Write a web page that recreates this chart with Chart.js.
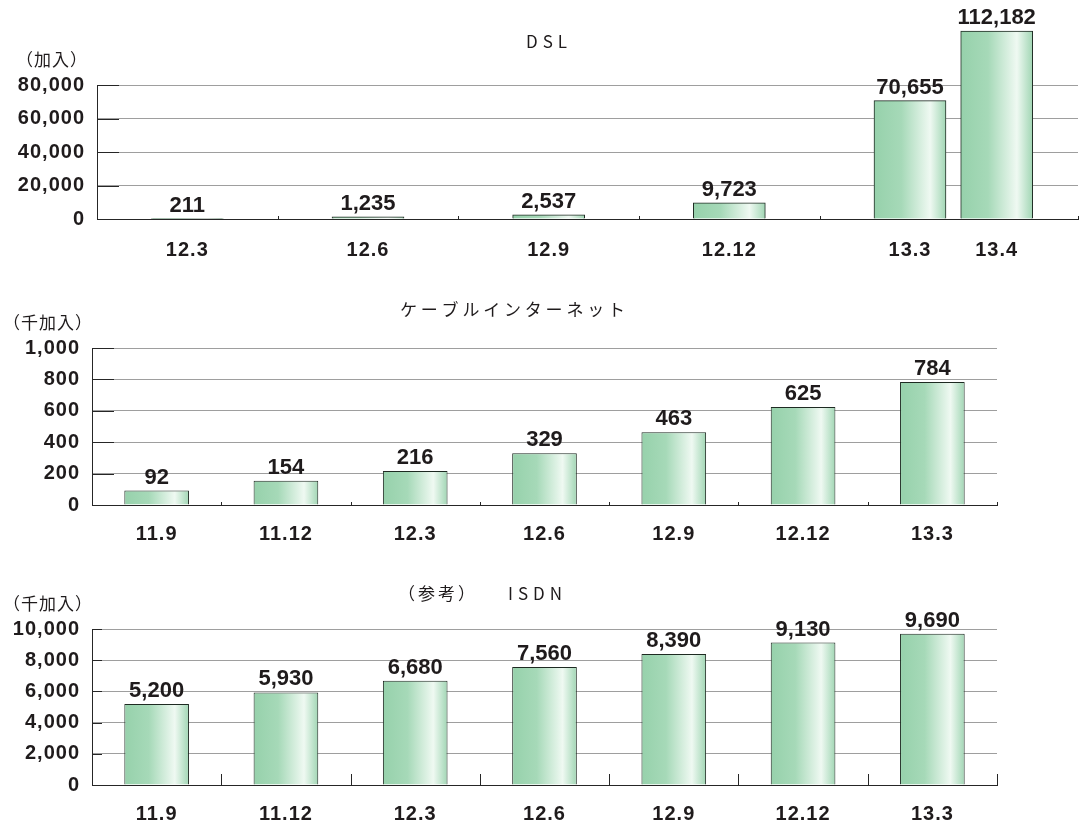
<!DOCTYPE html>
<html>
<head>
<meta charset="utf-8">
<script src="https://cdn.jsdelivr.net/npm/chart.js@4.4.1/dist/chart.umd.min.js"></script>
<style>
  html, body { margin: 0; padding: 0; background: #fff; }
  body { width: 1079px; height: 824px; position: relative; overflow: hidden; }
  canvas { position: absolute; left: 0; }
</style>
</head>
<body>
<canvas id="dsl" width="1079" height="265" style="top:0px"></canvas>
<canvas id="catv" width="1079" height="285" style="top:265px"></canvas>
<canvas id="isdn" width="1079" height="274" style="top:550px"></canvas>
<script>
// ---- data ----
const dslLabels = ['12.3', '12.6', '12.9', '12.12', '13.3', '13.4'];
const dslValues = [211, 1235, 2537, 9723, 70655, 112182];
const dslTicks = [0, 20000, 40000, 60000, 80000];

const cableLabels = ['11.9', '11.12', '12.3', '12.6', '12.9', '12.12', '13.3'];
const cableValues = [92, 154, 216, 329, 463, 625, 784];
const cableTicks = [0, 200, 400, 600, 800, 1000];

const isdnLabels = ['11.9', '11.12', '12.3', '12.6', '12.9', '12.12', '13.3'];
const isdnValues = [5200, 5930, 6680, 7560, 8390, 9130, 9690];
const isdnTicks = [0, 2000, 4000, 6000, 8000, 10000];

// ---- look ----
const FONT = "'Liberation Sans', Arial, 'Noto Sans CJK JP', sans-serif";
const JFONT = "'Noto Sans CJK JP', 'Liberation Sans', sans-serif";
const INK = '#1f1b1c';
const GRID = '#9e9e9e';
const AXIS = '#262626';
const fmt = v => v.toLocaleString('en-US');

// DSL: the newest month (13.4) sits right beside 13.3 inside the last slot
const DSL_BAR = 0.4;   // bar width as a fraction of a slot
const DSL_GAP = 0.08;  // gap between the two adjacent bars
const dslMain = dslLabels.length - 1;
const dslSlots = dslLabels.map((l, i) => i < dslMain ? i : (dslMain - 1) + DSL_BAR + DSL_GAP);
const dslAxisMax = dslSlots[dslSlots.length - 1] + DSL_BAR / 2 + 0.25;

// horizontal light-sheen fill for each bar
const barShading = {
  id: 'barShading',
  beforeDatasetsDraw(chart) {
    const ctx = chart.ctx;
    if ('letterSpacing' in ctx) ctx.letterSpacing = '0px';
    chart.data.datasets.forEach((ds, di) => {
      chart.getDatasetMeta(di).data.forEach(el => {
        const h = el.width / 2;
        const g = ctx.createLinearGradient(el.x - h, 0, el.x + h, 0);
        g.addColorStop(0, '#96d1ab');
        g.addColorStop(0.38, '#a6d9b8');
        g.addColorStop(0.78, '#eff9f2');
        g.addColorStop(1, '#a1d6b4');
        el.options.backgroundColor = g;
      });
    });
  }
};

// slightly tracked axis lettering
const tickTracking = {
  id: 'tickTracking',
  beforeDraw(chart, args, opts) {
    if ('letterSpacing' in chart.ctx) chart.ctx.letterSpacing = opts.px + 'px';
  }
};

// value printed above every bar
const valueLabels = {
  id: 'valueLabels',
  afterDatasetsDraw(chart, args, opts) {
    const ctx = chart.ctx;
    ctx.save();
    if ('letterSpacing' in ctx) ctx.letterSpacing = '0px';
    ctx.font = `bold ${opts.size}px ${FONT}`;
    ctx.fillStyle = INK;
    ctx.textAlign = 'center';
    ctx.textBaseline = 'alphabetic';
    chart.data.datasets.forEach((ds, di) => {
      chart.getDatasetMeta(di).data.forEach((el, i) => {
        const raw = ds.data[i];
        const v = typeof raw === 'object' ? raw.y : raw;
        ctx.fillText(fmt(v), el.x, el.y - opts.gap);
      });
    });
    ctx.restore();
  }
};

// short inward tick marks on both axes
const axisMarks = {
  id: 'axisMarks',
  afterDatasetsDraw(chart, args, opts) {
    const { ctx, chartArea: a, scales: { x, y } } = chart;
    ctx.save();
    ctx.strokeStyle = AXIS;
    ctx.lineWidth = 1;
    ctx.beginPath();
    y.ticks.forEach(t => {
      const py = Math.round(y.getPixelForValue(t.value)) + 0.5;
      ctx.moveTo(a.left, py);
      ctx.lineTo(a.left + opts.yLen, py);
    });
    const xs = [];
    for (let i = 0; i < opts.slots - 1; i++) xs.push(x.getPixelForValue(i + 0.5));
    xs.push(a.right - 0.5);
    xs.forEach(px => {
      px = Math.round(px) + 0.5;
      ctx.moveTo(px, a.bottom);
      ctx.lineTo(px, a.bottom - opts.xLen);
    });
    ctx.stroke();
    ctx.restore();
  }
};

// chart heading and unit caption
const headings = {
  id: 'headings',
  afterDraw(chart, args, o) {
    const ctx = chart.ctx;
    ctx.save();
    ctx.fillStyle = INK;
    ctx.textBaseline = 'middle';
    ctx.textAlign = 'left';
    o.parts.forEach(p => {
      ctx.font = `${p.size}px ${JFONT}`;
      if ('letterSpacing' in ctx) ctx.letterSpacing = p.spacing + 'px';
      ctx.fillText(p.text, p.x, p.y);
    });
    ctx.restore();
  }
};

function yScale(ticks, axisWidth) {
  return {
    min: ticks[0],
    max: ticks[ticks.length - 1],
    afterBuildTicks: s => { s.ticks = ticks.map(v => ({ value: v })); },
    afterFit: s => { s.width = axisWidth; },
    grid: { color: GRID, lineWidth: 1, drawTicks: false },
    border: { display: true, color: AXIS, width: 1 },
    ticks: {
      padding: 12,
      color: INK,
      font: { family: FONT, size: 20, weight: 'bold' },
      callback: v => fmt(v)
    }
  };
}

function xTicks(pad) {
  return {
    padding: pad,
    color: INK,
    autoSkip: false,
    maxRotation: 0,
    font: { family: FONT, size: 20, weight: 'bold' }
  };
}

function commonOptions(pad) {
  return {
    responsive: false,
    animation: false,
    events: [],
    layout: { padding: pad },
    plugins: { legend: { display: false }, tooltip: { enabled: false }, tickTracking: { px: 1 } }
  };
}

function barDataset(data, extra) {
  return Object.assign({
    data,
    backgroundColor: () => '#a7d9b9',
    borderColor: '#1e2a22',
    borderWidth: 1,
    borderSkipped: 'bottom'
  }, extra || {});
}

const PLUGINS = [tickTracking, barShading, valueLabels, axisMarks, headings];

// ---- DSL ----
const dslOpts = commonOptions({ left: 0, right: 1, top: 85, bottom: 6 });
dslOpts.scales = {
  x: {
    type: 'linear',
    min: -0.5,
    max: dslAxisMax,
    offset: false,
    afterBuildTicks: s => { s.ticks = dslSlots.map(v => ({ value: v })); },
    afterFit: s => { s.height = 40; },
    grid: { display: false, drawTicks: false, offset: false },
    border: { display: true, color: AXIS, width: 1 },
    ticks: Object.assign(xTicks(19), { callback: (v, i) => dslLabels[i] })
  },
  y: yScale(dslTicks, 97)
};
Object.assign(dslOpts.plugins, {
  valueLabels: { size: 22, gap: 7 },
  axisMarks: { yLen: 22, xLen: 3, slots: dslMain },
  headings: { parts: [
    { text: 'DSL', x: 526, y: 42, size: 17, spacing: 5 },
    { text: '（加入）', x: 16, y: 60, size: 17, spacing: 1 }
  ] }
});
new Chart(document.getElementById('dsl'), {
  type: 'bar',
  data: { datasets: [barDataset(dslSlots.map((x, i) => ({ x, y: dslValues[i] })),
                                { barThickness: 72, clip: false })] },
  options: dslOpts,
  plugins: PLUGINS
});

// ---- category charts ----
function categoryChart(id, labels, values, ticks, layoutPad, xHeight, xPad, marks, parts) {
  const opts = commonOptions(layoutPad);
  opts.scales = {
    x: {
      type: 'category',
      afterFit: s => { s.height = xHeight; },
      grid: { display: false, drawTicks: false },
      border: { display: true, color: AXIS, width: 1 },
      ticks: xTicks(xPad)
    },
    y: yScale(ticks, 92)
  };
  Object.assign(opts.plugins, {
    valueLabels: { size: 22, gap: 7 },
    axisMarks: Object.assign({ slots: labels.length }, marks),
    headings: { parts }
  });
  new Chart(document.getElementById(id), {
    type: 'bar',
    data: { labels, datasets: [barDataset(values, { categoryPercentage: 1, barPercentage: 0.5 })] },
    options: opts,
    plugins: PLUGINS
  });
}

categoryChart('catv', cableLabels, cableValues, cableTicks,
  { left: 0, right: 82, top: 83, bottom: 5 }, 40, 17,
  { yLen: 22, xLen: 3 },
  [ { text: 'ケーブルインターネット', x: 400, y: 45, size: 17, spacing: 3.8 },
    { text: '（千加入）', x: 3, y: 58, size: 17, spacing: 1 } ]);

categoryChart('isdn', isdnLabels, isdnValues, isdnTicks,
  { left: 0, right: 82, top: 79, bottom: 4 }, 35, 17,
  { yLen: 10, xLen: 11 },
  [ { text: '（参考）', x: 398, y: 44, size: 17, spacing: 3 },
    { text: 'ISDN', x: 508, y: 44, size: 17, spacing: 5 },
    { text: '（千加入）', x: 3, y: 54, size: 17, spacing: 1 } ]);
</script>
</body>
</html>
